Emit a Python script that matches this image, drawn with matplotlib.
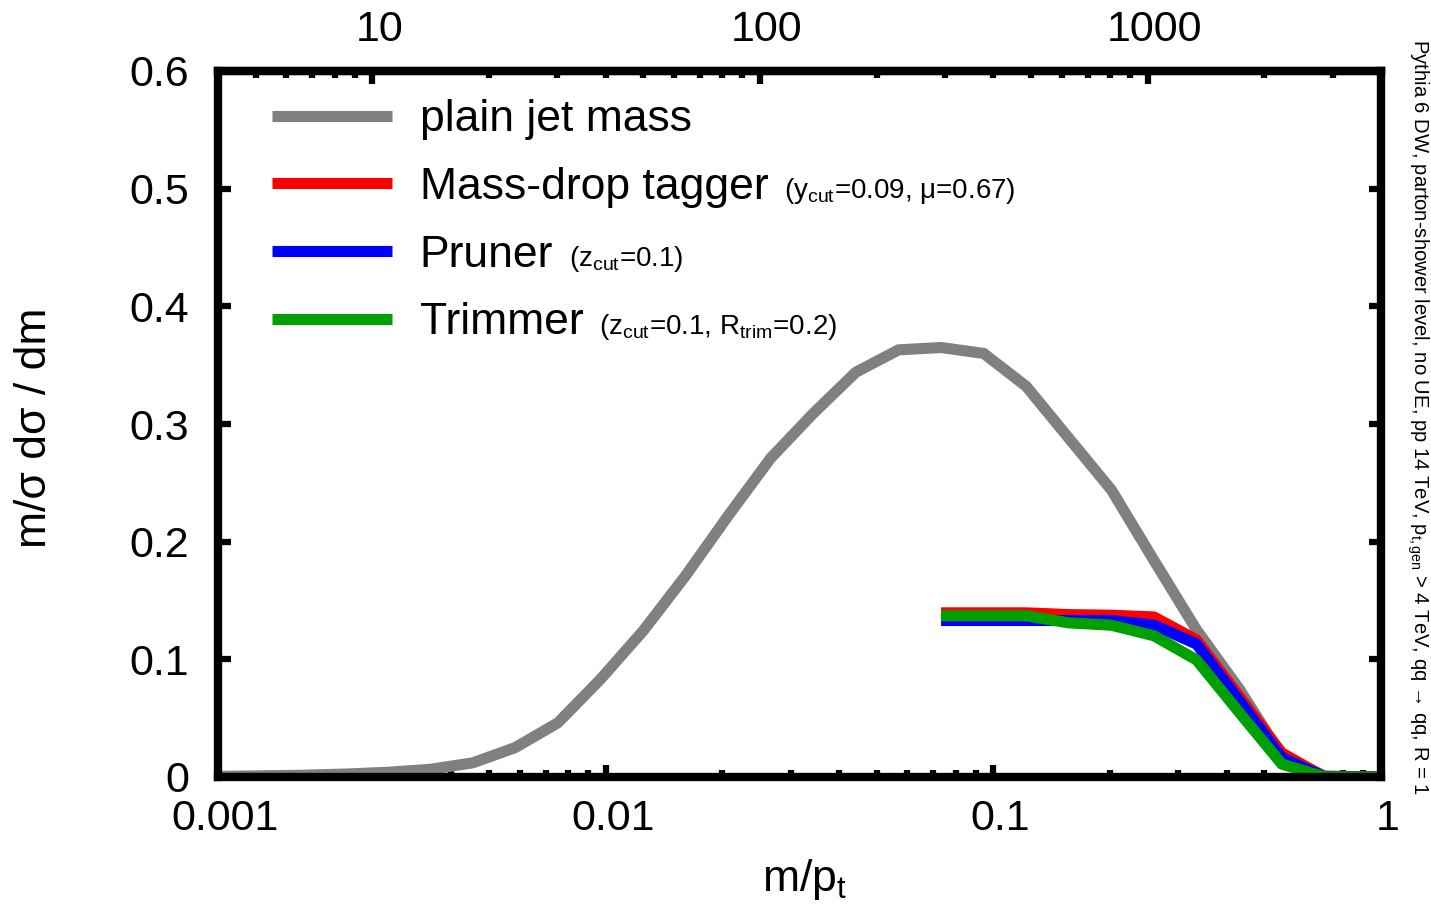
import matplotlib
matplotlib.use("Agg")
import matplotlib.pyplot as plt
from matplotlib.ticker import LogLocator, FixedLocator, FixedFormatter, NullFormatter
from matplotlib.transforms import ScaledTranslation

plt.rcParams['font.family'] = ['Liberation Sans', 'DejaVu Sans']
plt.rcParams['mathtext.fontset'] = 'custom'
plt.rcParams['mathtext.rm'] = 'Liberation Sans'
plt.rcParams['mathtext.it'] = 'Liberation Sans:italic'
plt.rcParams['mathtext.bf'] = 'Liberation Sans:bold'

# m/pt bin centres (log spaced)
m_over_pt = [0.000772, 0.000995, 0.001281, 0.001650, 0.002125, 0.002736,
             0.003524, 0.004537, 0.005844, 0.007525, 0.009692, 0.01248,
             0.01607, 0.02070, 0.02665, 0.03432, 0.04419, 0.05692,
             0.07331, 0.09441, 0.1216, 0.1565, 0.2016, 0.2597,
             0.3344, 0.4306, 0.5546, 0.7143, 0.9199, 1.185]
plain = [0.0003, 0.0005, 0.001, 0.0015, 0.0025, 0.004,
         0.0065, 0.012, 0.025, 0.046, 0.083, 0.124,
         0.171, 0.222, 0.271, 0.309, 0.344, 0.363,
         0.365, 0.360, 0.332, 0.288, 0.244, 0.184,
         0.125, 0.075, 0.018, 0.001, 0.0, 0.0]

# groomed jets only filled from m/pt ~ 0.07 upwards
groomed_x = [0.07331, 0.09441, 0.1216, 0.1565, 0.2016, 0.2597,
             0.3344, 0.4306, 0.5546, 0.7143, 0.9199, 1.185]
mdt = [0.1395, 0.1395, 0.1395, 0.138, 0.1375, 0.136,
       0.1165, 0.0685, 0.0205, 0.0, 0.0, 0.0]
pruner = [0.133, 0.133, 0.133, 0.133, 0.133, 0.129,
          0.113, 0.065, 0.0165, 0.0, 0.0, 0.0]
trimmer = [0.137, 0.137, 0.137, 0.131, 0.129, 0.120,
           0.0995, 0.055, 0.011, 0.0, 0.0, 0.0]

labels = ["plain jet mass", "Mass-drop tagger", "Pruner", "Trimmer"]
params = ["",
          r"(y$_\mathregular{cut}$=0.09, μ=0.67)",
          r"(z$_\mathregular{cut}$=0.1)",
          r"(z$_\mathregular{cut}$=0.1, R$_\mathregular{trim}$=0.2)"]
colors = ["#808080", "#ff0000", "#0000ff", "#00a000"]

x_ticks = [0.001, 0.01, 0.1, 1]
x_ticklabels = ["0.001", "0.01", "0.1", "1"]
top_ticks = [10, 100, 1000]
top_ticklabels = ["10", "100", "1000"]
y_ticks = [0, 0.1, 0.2, 0.3, 0.4, 0.5, 0.6]
y_ticklabels = ["0", "0.1", "0.2", "0.3", "0.4", "0.5", "0.6"]
pt_gen = 4000.0

W, H = 1431, 914
fig = plt.figure(figsize=(W / 100, H / 100), dpi=100)
ax = fig.add_axes([218 / W, 1 - 777 / H, (1381 - 218) / W, (777 - 71) / H])

lw = 8
l0, = ax.plot(m_over_pt, plain, color=colors[0], lw=lw, solid_capstyle='butt')
l1, = ax.plot(groomed_x, mdt, color=colors[1], lw=lw, solid_capstyle='butt')
l2, = ax.plot(groomed_x, pruner, color=colors[2], lw=lw, solid_capstyle='butt')
l3, = ax.plot(groomed_x, trimmer, color=colors[3], lw=lw, solid_capstyle='butt')

ax.set_xscale('log')
ax.set_xlim(0.001, 1)
ax.set_ylim(0, 0.6)

ax.xaxis.set_major_locator(FixedLocator(x_ticks))
ax.xaxis.set_major_formatter(FixedFormatter(x_ticklabels))
ax.xaxis.set_minor_locator(LogLocator(base=10, subs=range(2, 10)))
ax.xaxis.set_minor_formatter(NullFormatter())
ax.set_yticks(y_ticks)
ax.set_yticklabels(y_ticklabels)

for s in ax.spines.values():
    s.set_linewidth(6)
    s.set_zorder(5)

ax.tick_params(axis='x', which='major', direction='in', length=9, width=4.5,
               labelsize=31, pad=16, top=False)
ax.tick_params(axis='x', which='minor', direction='in', length=5, width=4.5, top=False)
ax.tick_params(axis='y', which='major', direction='in', length=9, width=4.5,
               labelsize=31, pad=21, right=True, left=True)

secax = ax.secondary_xaxis('top', functions=(lambda x: x * pt_gen, lambda x: x / pt_gen))
secax.xaxis.set_major_locator(FixedLocator(top_ticks))
secax.xaxis.set_major_formatter(FixedFormatter(top_ticklabels))
secax.xaxis.set_minor_locator(LogLocator(base=10, subs=range(2, 10)))
secax.xaxis.set_minor_formatter(NullFormatter())
secax.tick_params(which='major', direction='in', length=9, width=4.5, labelsize=31, pad=15)
secax.tick_params(which='minor', direction='in', length=5, width=4.5)
secax.spines['top'].set_linewidth(6)

leg = ax.legend([l0, l1, l2, l3], labels, loc='upper left',
                bbox_to_anchor=(0.0464, 0.960), frameon=False, fontsize=32,
                handlelength=2.7, handletextpad=0.62, labelspacing=0.60,
                borderpad=0, borderaxespad=0)

fig.text(805 / W, 1 - 880 / H, r"m/p$_\mathregular{t}$", fontsize=32,
         ha='center', va='center')
fig.text(35 / W, 1 - 428 / H, "m/σ dσ / dm", fontsize=32, rotation=90,
         ha='center', va='center')
fig.text(1418 / W, 1 - 417 / H,
         r"Pythia 6 DW, parton-shower level, no UE, pp 14 TeV, p$_\mathregular{t,gen}$ > 4 TeV, qq → qq, R = 1",
         fontsize=14.6, rotation=270, ha='center', va='center')

# place the small parameter text after each legend entry, once layout is known
fig.canvas.draw()
renderer = fig.canvas.get_renderer()
descent = 0.212 * 32 * 100 / 72
for txt, p in zip(leg.get_texts(), params):
    if p:
        bb = txt.get_window_extent(renderer)
        fig.text((bb.x1 + 16) / W, (bb.y0 + descent) / H, p, fontsize=20,
                 ha='left', va='baseline')

# tick labels sit a little to the right of their ticks in the original
shift = ScaledTranslation(7 / 100, 0, fig.dpi_scale_trans)
for t in ax.xaxis.get_major_ticks() + secax.xaxis.get_major_ticks():
    t.label1.set_transform(t.label1.get_transform() + shift)
    t.label2.set_transform(t.label2.get_transform() + shift)

fig.savefig("out.png", dpi=100)
